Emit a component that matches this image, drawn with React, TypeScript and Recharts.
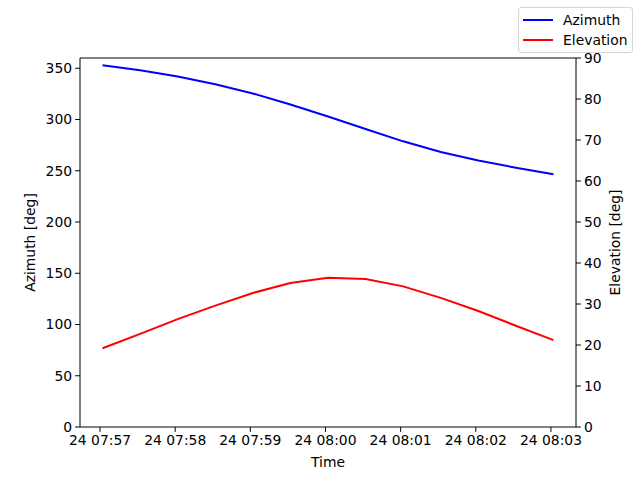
import { Line, LineChart, ReferenceLine, XAxis, YAxis } from 'recharts';

// seconds after 24 07:57:00
const times = [2, 32, 62, 92, 122, 152, 182, 212, 242, 272, 302, 332, 362];
const azimuth = [352.9, 348, 342, 334.4, 325.4, 314.7, 303, 290.7, 278.7, 268.3, 260, 253, 246.6];
const elevation = [19.2, 22.7, 26.3, 29.6, 32.7, 35.1, 36.4, 36.1, 34.3, 31.5, 28.3, 24.7, 21.2];

const xTicks = [0, 60, 120, 180, 240, 300, 360];
const xTickLabels = ['24 07:57', '24 07:58', '24 07:59', '24 08:00', '24 08:01', '24 08:02', '24 08:03'];
const azTicks = [0, 50, 100, 150, 200, 250, 300, 350];
const elTicks = [0, 10, 20, 30, 40, 50, 60, 70, 80, 90];

const series = [
  { key: 'azimuth', name: 'Azimuth', color: '#0000ff' },
  { key: 'elevation', name: 'Elevation', color: '#ff0000' },
];

const data = times.map((t, i) => ({ t, azimuth: azimuth[i], elevation: elevation[i] }));

const FONT = 'DejaVu Sans';
const tickStyle = { fill: '#000', fontSize: 13.9, fontFamily: FONT };

export default function App() {
  return (
    <div style={{ position: 'absolute', left: 0, top: 0, width: 640, height: 480, background: '#fff' }}>
      <LineChart width={640} height={480} data={data} margin={{ top: 58, right: 0, left: 0, bottom: 0 }}>
        <XAxis
          dataKey="t"
          type="number"
          domain={[-16, 380]}
          ticks={xTicks}
          tickFormatter={(v: number) => xTickLabels[xTicks.indexOf(v)]}
          height={53}
          stroke="#000"
          tick={tickStyle}
          tickSize={4.9}
          tickMargin={3}
          allowDataOverflow
          label={{ value: 'Time', position: 'center', dy: 9, fill: '#000', fontSize: 13.9, fontFamily: FONT }}
        />
        <YAxis
          yAxisId="left"
          domain={[0, 360]}
          ticks={azTicks}
          width={80}
          stroke="#000"
          tick={tickStyle}
          tickSize={4.9}
          tickMargin={3}
          label={{ value: 'Azimuth [deg]', angle: -90, position: 'center', dx: -10, fill: '#000', fontSize: 13.9, fontFamily: FONT }}
        />
        <YAxis
          yAxisId="right"
          orientation="right"
          domain={[0, 90]}
          ticks={elTicks}
          width={64}
          stroke="#000"
          tick={tickStyle}
          tickSize={4.9}
          tickMargin={3}
          label={{ value: 'Elevation [deg]', angle: -90, position: 'center', dx: 7, fill: '#000', fontSize: 13.9, fontFamily: FONT }}
        />
        <ReferenceLine yAxisId="left" y={360} stroke="#000" strokeWidth={1} />
        <Line yAxisId="left" dataKey="azimuth" stroke="#0000ff" strokeWidth={2} dot={false} type="linear" isAnimationActive={false} />
        <Line yAxisId="right" dataKey="elevation" stroke="#ff0000" strokeWidth={2} dot={false} type="linear" isAnimationActive={false} />
      </LineChart>
      <div
        style={{
          position: 'absolute',
          left: 518,
          top: 7,
          width: 113,
          height: 44,
          border: '1px solid #d6d6d6',
          borderRadius: 3,
          background: 'rgba(255,255,255,0.8)',
          fontFamily: FONT,
          fontSize: 13.9,
          color: '#000',
        }}
      >
        {series.map((s, i) => (
          <div key={s.key} style={{ position: 'absolute', left: 4, top: 2 + i * 20, height: 20, display: 'flex', alignItems: 'center' }}>
            <div style={{ width: 30, height: 2, background: s.color, marginRight: 10 }} />
            <span>{s.name}</span>
          </div>
        ))}
      </div>
    </div>
  );
}
